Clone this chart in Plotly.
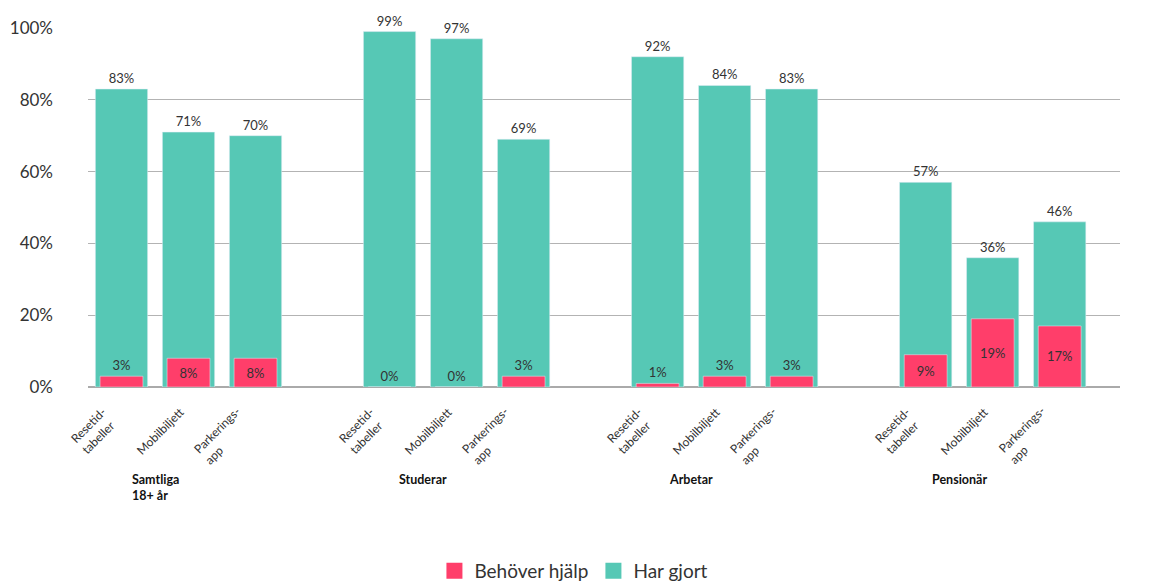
import plotly.graph_objects as go

items = ["Resetid-<br>tabeller", "Mobilbiljett", "Parkerings-<br>app"]
groups = ["Samtliga<br>18+ år", "Studerar", "Arbetar", "Pensionär"]
har_gjort = [83, 71, 70, 99, 97, 69, 92, 84, 83, 57, 36, 46]
behover_hjalp = [3, 8, 8, 0, 0, 3, 1, 3, 3, 9, 19, 17]

TEAL = "#56c8b5"
RED = "#ff3e6a"
TXT = "#333333"
FONT = "Lato"

xs = []
labels = []
for gi in range(len(groups)):
    for ii in range(len(items)):
        xs.append(gi * 4 + ii)
        labels.append(items[ii])

fig = go.Figure()
fig.add_trace(go.Bar(
    x=xs, y=har_gjort, width=0.78, marker_color=TEAL,
    text=[f"{v}%" for v in har_gjort], textposition="outside",
    textfont=dict(color=TXT, size=13, family=FONT),
    cliponaxis=False, showlegend=False, hoverinfo="skip"))
fig.add_trace(go.Bar(
    x=xs, y=behover_hjalp, width=0.64, marker_color=RED,
    text=[f"{v}%" for v in behover_hjalp],
    textposition=["outside" if v < 5 else "inside" for v in behover_hjalp],
    insidetextanchor="middle",
    textfont=dict(color=TXT, size=13, family=FONT),
    cliponaxis=False, showlegend=False, hoverinfo="skip"))

# legend entries
fig.add_trace(go.Scatter(x=[None], y=[None], mode="markers", name="Behöver hjälp",
                         marker=dict(symbol="square", size=24, color=RED)))
fig.add_trace(go.Scatter(x=[None], y=[None], mode="markers", name="Har gjort",
                         marker=dict(symbol="square", size=24, color=TEAL)))

for x, lab in zip(xs, labels):
    fig.add_annotation(x=x, xref="x", y=0, yref="y", yshift=-14, xshift=2,
                       xanchor="right", yanchor="top", align="left",
                       textangle=-45, text=lab, showarrow=False,
                       font=dict(size=12, color=TXT, family=FONT))

for gi, g in enumerate(groups):
    fig.add_annotation(x=gi * 4 + 0.5, xref="x", y=0, yref="y", yshift=-83,
                       yanchor="top", xanchor="center", align="left",
                       text=f"<b>{g}</b>", showarrow=False,
                       font=dict(size=12.5, color="#111111", family=FONT))

fig.update_layout(
    width=1141, height=575,
    margin=dict(l=80, r=29, t=20, b=196),
    barmode="overlay",
    plot_bgcolor="white", paper_bgcolor="white",
    font=dict(family=FONT, color=TXT),
    legend=dict(orientation="h", x=0.496, xref="container", xanchor="center",
                y=0.021, yref="container", yanchor="middle",
                font=dict(size=19, color=TXT, family=FONT), itemwidth=30),
    xaxis=dict(range=[-0.5, 14.9], showticklabels=False, ticks="",
               showgrid=False, zeroline=False, showline=False, automargin=False),
    yaxis=dict(range=[0, 100], dtick=20, ticksuffix="%", showgrid=True,
               gridcolor="#b3b3b3", gridwidth=1, zeroline=True, zerolinecolor="#aaaaaa",
               zerolinewidth=2, tickfont=dict(size=17, color=TXT, family=FONT),
               ticklabelstandoff=34, automargin=False),
)
fig.write_html("out.html")
